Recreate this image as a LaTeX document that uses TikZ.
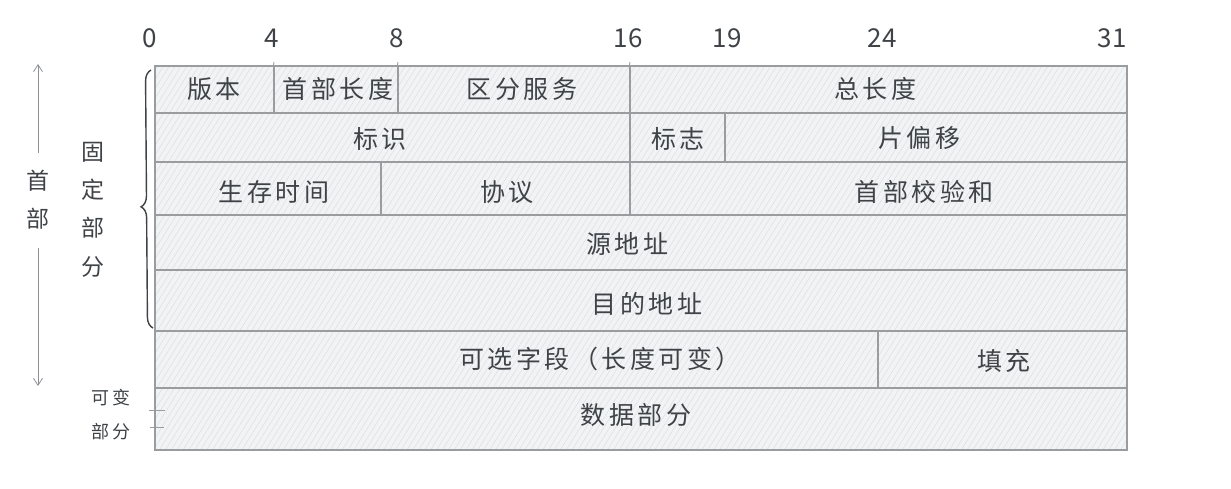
\documentclass[tikz,border=0pt]{standalone}
\usepackage{fontspec}
\newfontfamily\cjk{Noto Sans CJK SC}[LetterSpace=14]
\newfontfamily\cjknum{Noto Sans CJK SC}
\usetikzlibrary{patterns.meta,decorations.pathreplacing,arrows.meta}
\definecolor{bordc}{HTML}{9A9DA0}
\definecolor{fillc}{HTML}{F1F3F5}
\definecolor{hatchc}{HTML}{D6DADE}
\definecolor{txtc}{HTML}{3F4347}
\definecolor{arrc}{HTML}{8E9194}
\tikzset{
  cell/.style={draw=bordc, line width=1.2pt, preaction={fill=fillc},
    pattern={Lines[angle=58,distance=5pt,line width=0.35pt]}, pattern color=hatchc,
    inner sep=0pt, anchor=center},
  celltxt/.style={text=txtc, font=\cjk\fontsize{25}{25}\selectfont, inner sep=0pt},
  bitnum/.style={text=txtc, font=\cjknum\fontsize{26}{26}\selectfont, inner sep=0pt},
  sidetxt/.style={text=txtc, font=\cjk\fontsize{23}{23}\selectfont, inner sep=0pt},
  smalltxt/.style={text=txtc, font=\cjk\fontsize{18}{18}\selectfont, inner sep=0pt},
  sidearrow/.style={draw=arrc, line width=0.8pt, -{Straight Barb[length=7pt,width=9pt]}},
  tickln/.style={draw=bordc, line width=0.9pt},
  bracestyle/.style={draw=txtc, line width=1.4pt, decorate, decoration={brace, amplitude=11pt, aspect=0.47}}
}
% name, x1, y1, x2, y2, text x, text y, text
\newcommand{\ipcell}[8]{%
  \node[cell, minimum width={(#4-#2)*1pt}, minimum height={(#5-#3)*1pt}] (#1) at ({(#2+#4)/2},{(#3+#5)/2}) {};
  \node[celltxt] (#1-t) at (#6,#7) {#8};}
\begin{document}
\begin{tikzpicture}[x=1pt,y=-1pt]
\useasboundingbox (0,0) rectangle (1231,488);
% bit numbers
\node[bitnum] (b0) at (150,38) {0};
\node[bitnum] (b4) at (272,38) {4};
\node[bitnum] (b8) at (397,38) {8};
\node[bitnum] (b16) at (628,38) {16};
\node[bitnum] (b19) at (727,38) {19};
\node[bitnum] (b24) at (882,38) {24};
\node[bitnum] (b31) at (1112,38) {31};
% row 1
\ipcell{ver}{155}{66}{274}{113}{214}{89}{版本}
\ipcell{hlen}{274}{66}{398}{113}{338}{89}{首部长度}
\ipcell{ds}{398}{66}{630}{113}{522}{89}{区分服务}
\ipcell{tlen}{630}{66}{1127}{113}{875}{89}{总长度}
% row 2
\ipcell{ident}{155}{113}{630}{162}{380}{139}{标识}
\ipcell{flag}{630}{113}{725}{162}{678}{139}{标志}
\ipcell{frag}{725}{113}{1127}{162}{919}{138}{片偏移}
% row 3
\ipcell{ttl}{155}{162}{381}{215}{274}{192}{生存时间}
\ipcell{proto}{381}{162}{630}{215}{507}{192}{协议}
\ipcell{csum}{630}{162}{1127}{215}{924}{192}{首部校验和}
% rows 4-7
\ipcell{src}{155}{215}{1127}{270}{627}{244}{源地址}
\ipcell{dst}{155}{270}{1127}{331}{647}{304}{目的地址}
\ipcell{opt}{155}{331}{878}{388}{600}{359}{可选字段（长度可变）}
\ipcell{pad}{878}{331}{1127}{388}{1004}{361}{填充}
\ipcell{data}{155}{388}{1127}{450}{636}{415}{数据部分}
% small overshoot ticks above the table
\coordinate (t4) at (274,62); \coordinate (t8) at (398,62); \coordinate (t16) at (630,62);
\draw[tickln] (t4) -- (hlen.north west);
\draw[tickln] (t8) -- (ds.north west);
\draw[tickln] (t16) -- (tlen.north west);
% left side: header arrows
\node[sidetxt] (hd1) at (38,181) {首};
\node[sidetxt] (hd2) at (38,219) {部};
\coordinate (upstart) at (38,153);
\coordinate (upend) at (38,64);
\coordinate (downstart) at (38,248);
\coordinate (downend) at (38,386);
\draw[sidearrow] (upstart) -- (upend);
\draw[sidearrow] (downstart) -- (downend);
% fixed part
\node[sidetxt] (f1) at (93,152) {固};
\node[sidetxt] (f2) at (93,190) {定};
\node[sidetxt] (f3) at (93,228) {部};
\node[sidetxt] (f4) at (93,267) {分};
\coordinate (brtop) at (151,70);
\coordinate (brbot) at (153,328);
\draw[bracestyle] (brbot) -- (brtop);
% variable part
\node[smalltxt] (v1) at (111,398) {可变};
\node[smalltxt] (v2) at (111,432) {部分};
\coordinate (k1a) at (149,410); \coordinate (k1b) at (165,410);
\coordinate (k2a) at (150,427); \coordinate (k2b) at (164,427);
\draw[tickln] (k1a) -- (k1b);
\draw[tickln] (k2a) -- (k2b);
\end{tikzpicture}
\end{document}
